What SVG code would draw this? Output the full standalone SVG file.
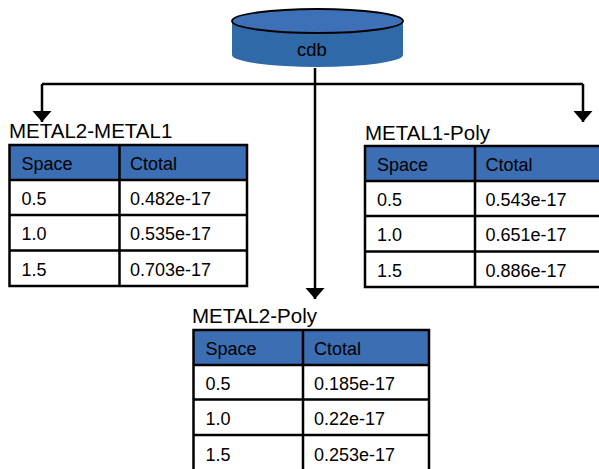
<svg xmlns="http://www.w3.org/2000/svg" width="599" height="469" viewBox="0 0 599 469">
  <defs>
    <marker id="arrow" markerUnits="userSpaceOnUse" markerWidth="20" markerHeight="14" refX="10" refY="12" orient="0" viewBox="0 0 20 14">
      <path d="M0.5,1 L19.5,1 L10,12 Z" fill="#000"/>
    </marker>
  </defs>
  <style>
    text { font-family: "Liberation Sans", Arial, sans-serif; fill: #000; }
    .title { font-size: 20.5px; }
    .cell { font-size: 18px; }
    .hdr { fill: #3c6eb4; }
    .body { fill: #fff; }
    .grid { fill: none; stroke: #000; stroke-width: 2.5; }
    .wire { fill: none; stroke: #000; stroke-width: 2.5; }
  </style>

  <rect width="599" height="469" fill="#fff"/>

  <!-- connectors -->
  <g id="connectors">
    <path class="wire" d="M315,68 V299" marker-end="url(#arrow)"/>
    <path class="wire" d="M42,84 H583"/>
    <path class="wire" d="M42,84 V122" marker-end="url(#arrow)"/>
    <path class="wire" d="M583,84 V122" marker-end="url(#arrow)"/>
  </g>

  <!-- database -->
  <g id="cdb">
    <path d="M232,21 V55 A85.5,12 0 0 0 403,55 V21 Z" fill="#2f69a8"/>
    <ellipse cx="317.5" cy="21" rx="85.5" ry="12" fill="#3d70b7" stroke="#000" stroke-width="1.8"/>
    <text x="312" y="56" font-size="18.5" text-anchor="middle">cdb</text>
  </g>

  <!-- METAL2-METAL1 table -->
  <g id="metal2-metal1">
    <text class="title" x="9" y="138">METAL2-METAL1</text>
    <rect class="hdr" x="9.5" y="145" width="237.5" height="35"/>
    <rect class="body" x="9.5" y="180" width="237.5" height="106"/>
    <path class="grid" d="M9.5,145 H247 V286 H9.5 Z M9.5,180 H247 M9.5,215 H247 M9.5,250.5 H247 M119.5,145 V286"/>
    <text class="cell" x="21.5" y="170">Space</text>
    <text class="cell" x="130" y="170">Ctotal</text>
    <text class="cell" x="21.5" y="205">0.5</text>
    <text class="cell" x="130" y="205">0.482e-17</text>
    <text class="cell" x="21.5" y="240">1.0</text>
    <text class="cell" x="130" y="240">0.535e-17</text>
    <text class="cell" x="21.5" y="275.5">1.5</text>
    <text class="cell" x="130" y="275.5">0.703e-17</text>
  </g>

  <!-- METAL1-Poly table -->
  <g id="metal1-poly">
    <text class="title" x="365" y="140">METAL1-Poly</text>
    <rect class="hdr" x="365" y="146" width="238" height="35"/>
    <rect class="body" x="365" y="181" width="238" height="106"/>
    <path class="grid" d="M365,146 H603 V287 H365 Z M365,181 H603 M365,216 H603 M365,251.5 H603 M475,146 V287"/>
    <text class="cell" x="377" y="171">Space</text>
    <text class="cell" x="485.5" y="171">Ctotal</text>
    <text class="cell" x="377" y="206">0.5</text>
    <text class="cell" x="485.5" y="206">0.543e-17</text>
    <text class="cell" x="377" y="241">1.0</text>
    <text class="cell" x="485.5" y="241">0.651e-17</text>
    <text class="cell" x="377" y="276.5">1.5</text>
    <text class="cell" x="485.5" y="276.5">0.886e-17</text>
  </g>

  <!-- METAL2-Poly table -->
  <g id="metal2-poly">
    <text class="title" x="192" y="323">METAL2-Poly</text>
    <rect class="hdr" x="193.5" y="330" width="235.5" height="35"/>
    <rect class="body" x="193.5" y="365" width="235.5" height="106"/>
    <path class="grid" d="M193.5,330 H429 V471 H193.5 Z M193.5,365 H429 M193.5,399.5 H429 M193.5,435 H429 M303,330 V471"/>
    <text class="cell" x="205.5" y="355">Space</text>
    <text class="cell" x="314" y="355">Ctotal</text>
    <text class="cell" x="205.5" y="390">0.5</text>
    <text class="cell" x="314" y="390">0.185e-17</text>
    <text class="cell" x="205.5" y="425">1.0</text>
    <text class="cell" x="314" y="425">0.22e-17</text>
    <text class="cell" x="205.5" y="460.5">1.5</text>
    <text class="cell" x="314" y="460.5">0.253e-17</text>
  </g>
</svg>
